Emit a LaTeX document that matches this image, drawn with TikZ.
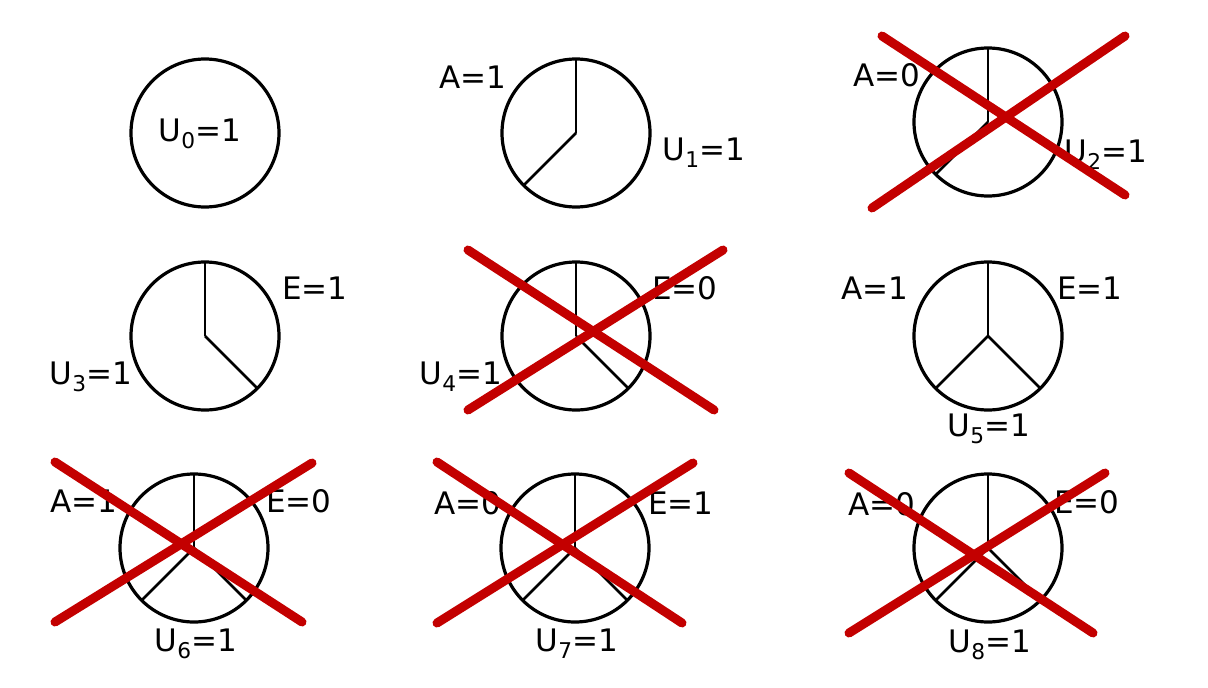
\documentclass[tikz,border=0pt]{standalone}
\usepackage{fontspec}
\setmainfont{DejaVu Sans}
\definecolor{xred}{RGB}{195,0,0}

\begin{document}
\begin{tikzpicture}[x=1pt,y=-1pt,
    pie/.style={circle,draw,line width=3.2pt,minimum size=148pt,inner sep=0pt,outer sep=0pt},
    spoke/.style={line width=2.8pt},
    lbl/.style={font=\fontsize{31}{33}\selectfont,inner sep=0pt,anchor=base},
    cross/.style={line width=9pt,xred,line cap=round}]
    \useasboundingbox (0,0) rectangle (1208,688);

    \node[pie] (c0) at (205,133) {};
    \node[pie] (c1) at (576,133) {};
    \node[pie] (c2) at (988,122) {};
    \node[pie] (c3) at (205,336) {};
    \node[pie] (c4) at (576,336) {};
    \node[pie] (c5) at (988,336) {};
    \node[pie] (c6) at (194,548) {};
    \node[pie] (c7) at (575,548) {};
    \node[pie] (c8) at (988,548) {};

    \foreach \c in {c1,c2,c3,c4,c5,c6,c7,c8}
    {\draw[spoke] (\c.center) -- (\c.90);}
    \foreach \c/\a in {c1/225,c2/225,c3/315,c4/315,c5/225,c5/315,c6/225,c6/315,c7/225,c7/315,c8/225,c8/315}
    {\draw[spoke] (\c.center) -- (\c.\a);}

    \node[lbl] (u0) at (200,141) {U\textsubscript{0}=1};
    \node[lbl] (a1) at (473,88) {A=1};
    \node[lbl] (u1) at (704,160) {U\textsubscript{1}=1};
    \node[lbl] (a2) at (887,86) {A=0};
    \node[lbl] (u2) at (1106,162) {U\textsubscript{2}=1};
    \node[lbl] (e3) at (315,299) {E=1};
    \node[lbl] (u3) at (91,384) {U\textsubscript{3}=1};
    \node[lbl] (e4) at (685,299) {E=0};
    \node[lbl] (u4) at (461,384) {U\textsubscript{4}=1};
    \node[lbl] (a5) at (875,299) {A=1};
    \node[lbl] (e5) at (1090,299) {E=1};
    \node[lbl] (u5) at (989,436) {U\textsubscript{5}=1};
    \node[lbl] (a6) at (84,512) {A=1};
    \node[lbl] (e6) at (299,512) {E=0};
    \node[lbl] (u6) at (196,651) {U\textsubscript{6}=1};
    \node[lbl] (a7) at (468,514) {A=0};
    \node[lbl] (e7) at (681,514) {E=1};
    \node[lbl] (u7) at (577,651) {U\textsubscript{7}=1};
    \node[lbl] (a8) at (882,515) {A=0};
    \node[lbl] (e8) at (1087,513) {E=0};
    \node[lbl] (u8) at (990,652) {U\textsubscript{8}=1};

    \draw[cross] (882,36) -- (1125,195);
    \draw[cross] (872,208) -- (1125,36);
    \draw[cross] (468,250) -- (714,410);
    \draw[cross] (468,410) -- (723,250);
    \draw[cross] (55,462) -- (302,622);
    \draw[cross] (55,622) -- (312,463);
    \draw[cross] (437,462) -- (682,623);
    \draw[cross] (437,623) -- (693,463);
    \draw[cross] (849,473) -- (1093,633);
    \draw[cross] (849,633) -- (1105,473);
\end{tikzpicture}
\end{document}
